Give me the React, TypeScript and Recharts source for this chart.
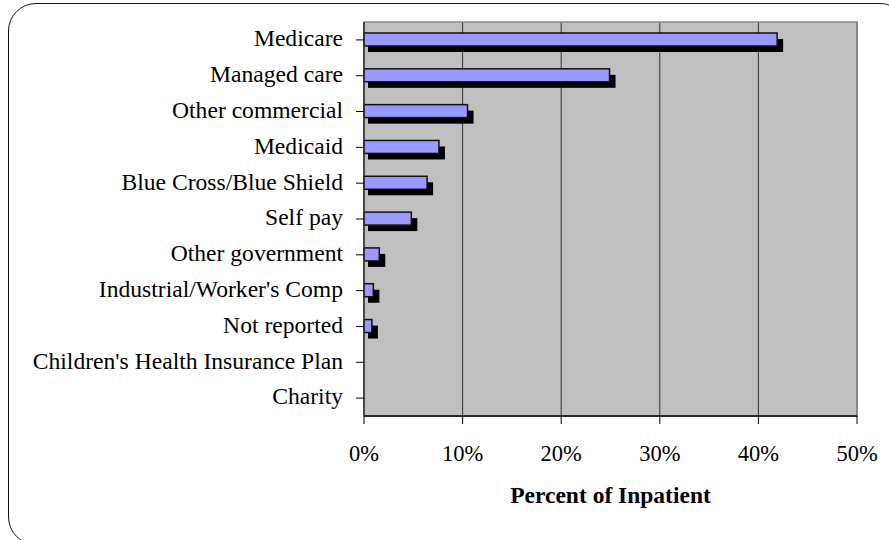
import React from 'react';
import { BarChart, Bar, XAxis, YAxis, CartesianGrid, ReferenceArea } from 'recharts';

const payers = [
  'Medicare',
  'Managed care',
  'Other commercial',
  'Medicaid',
  'Blue Cross/Blue Shield',
  'Self pay',
  'Other government',
  "Industrial/Worker's Comp",
  'Not reported',
  "Children's Health Insurance Plan",
  'Charity',
];

// share of inpatient discharges, as fractions
const inpatientShare = [0.419, 0.249, 0.105, 0.076, 0.064, 0.048, 0.0155, 0.0095, 0.008, 0, 0];

const xTicks = [0, 0.1, 0.2, 0.3, 0.4, 0.5];

const data = payers.map((name, i) => ({ name, share: inpatientShare[i] }));

const serif = '"Liberation Serif", "Times New Roman", serif';

// bar with an offset black drop shadow
const ShadowBar = (props: any) => {
  const { x, y, width, height } = props;
  if (!width || width <= 0) return null;
  return (
    <g>
      <rect x={x + 4} y={y + 6} width={width + 2} height={height} fill="#000" />
      <rect x={x} y={y} width={width} height={height} fill="#9999ff" stroke="#111" strokeWidth={1.5} />
    </g>
  );
};

export default function App() {
  return (
    <div style={{ position: 'absolute', left: 0, top: 0, width: 889, height: 540, overflow: 'hidden', background: '#fff' }}>
      <div
        style={{
          position: 'absolute',
          left: 8,
          top: 3,
          width: 900,
          height: 542,
          border: '1.5px solid #111',
          borderRadius: 28,
          boxSizing: 'border-box',
        }}
      />
      <div style={{ position: 'absolute', left: 0, top: 0 }}>
        <BarChart
          width={889}
          height={540}
          data={data}
          layout="vertical"
          margin={{ top: 22, right: 32, bottom: 30, left: 0 }}
          barSize={13}
        >
          <CartesianGrid horizontal={false} vertical stroke="#333" fill="#c0c0c0" fillOpacity={1} />
          <ReferenceArea x1={0} x2={0.5} fill="none" stroke="#888" strokeWidth={1.5} ifOverflow="visible" />
          <XAxis
            type="number"
            domain={[0, 0.5]}
            ticks={xTicks}
            tickFormatter={(v: number) => `${Math.round(v * 100)}%`}
            axisLine={{ stroke: '#000', strokeWidth: 1.5 }}
            tickLine={{ stroke: '#000' }}
            tickSize={8}
            tickMargin={21}
            height={94}
            tick={{ fill: '#000', fontSize: 22.5, fontFamily: serif }}
            label={{
              value: 'Percent of Inpatient',
              position: 'insideBottom',
              offset: 7,
              style: { fill: '#000', fontSize: 23.5, fontWeight: 'bold', fontFamily: serif },
            }}
          />
          <YAxis
            type="category"
            dataKey="name"
            width={364}
            interval={0}
            axisLine={{ stroke: '#333', strokeWidth: 1.5 }}
            tickLine={{ stroke: '#000' }}
            tickSize={8}
            tickMargin={13}
            tick={{ fill: '#000', fontSize: 23.6, fontFamily: serif, dy: -2 }}
          />
          <Bar dataKey="share" shape={ShadowBar} isAnimationActive={false} />
        </BarChart>
      </div>
    </div>
  );
}
